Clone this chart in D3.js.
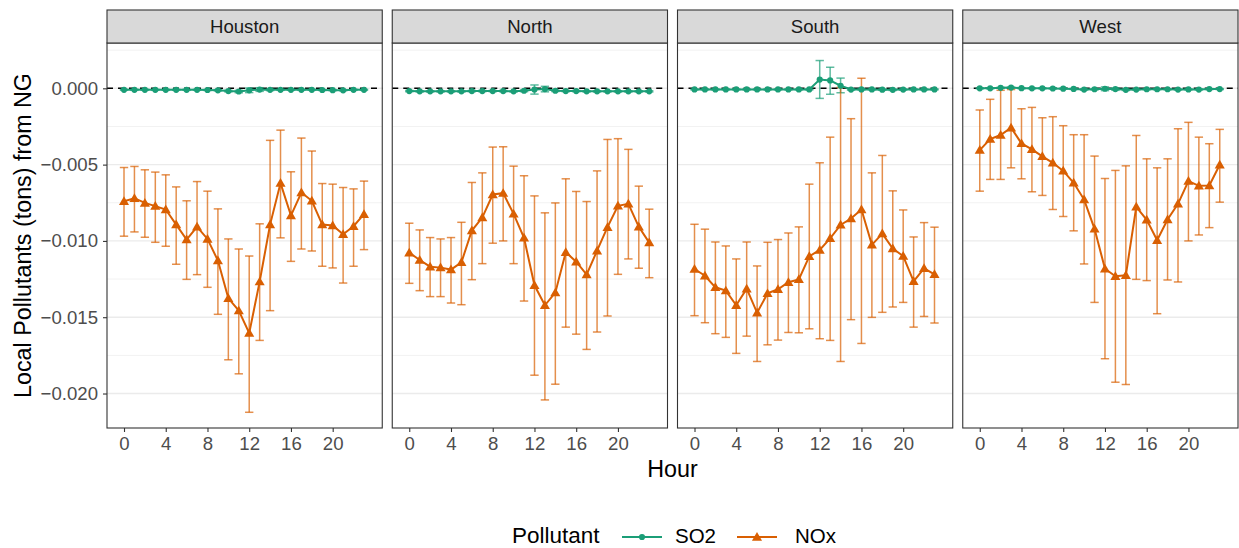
<!DOCTYPE html>
<html>
<head>
<meta charset="utf-8">
<script src="https://cdn.jsdelivr.net/npm/d3@7/dist/d3.min.js"></script>
<style>
  html, body { margin: 0; padding: 0; background: #fff; }
  svg { display: block; font-family: "Liberation Sans", Arial, Helvetica, sans-serif; }
</style>
</head>
<body>
<svg id="chart" width="1239" height="548"></svg>
<script>
// ---------------- DATA ----------------
const hours = [0,1,2,3,4,5,6,7,8,9,10,11,12,13,14,15,16,17,18,19,20,21,22,23];
const regions = ["Houston", "North", "South", "West"];
const pollutants = ["SO2", "NOx"];
const yTicks = [0, -0.005, -0.010, -0.015, -0.020];
const yMinor = [0.0025, -0.0025, -0.0075, -0.0125, -0.0175];
const xTicks = [0, 4, 8, 12, 16, 20];

// NOx (mean, upper, lower)
const houstonNOx   = [-0.00740,-0.00720,-0.00751,-0.00772,-0.00794,-0.00893,-0.00991,-0.00908,-0.00987,-0.01129,-0.01376,-0.01457,-0.01604,-0.01267,-0.00893,-0.00621,-0.00834,-0.00683,-0.00737,-0.00893,-0.00899,-0.00956,-0.00904,-0.00825];
const houstonNOxHi = [-0.00519,-0.00512,-0.00534,-0.00549,-0.00567,-0.00646,-0.00737,-0.00611,-0.00674,-0.00790,-0.00987,-0.01053,-0.01099,-0.00888,-0.00341,-0.00274,-0.00547,-0.00326,-0.00411,-0.00624,-0.00628,-0.00650,-0.00659,-0.00608];
const houstonNOxLo = [-0.00969,-0.00941,-0.00976,-0.01009,-0.01035,-0.01153,-0.01252,-0.01221,-0.01304,-0.01481,-0.01779,-0.01871,-0.02123,-0.01652,-0.01457,-0.00980,-0.01134,-0.01053,-0.01066,-0.01166,-0.01177,-0.01276,-0.01166,-0.01057];

const northNOx   = [-0.01077,-0.01125,-0.01169,-0.01175,-0.01188,-0.01140,-0.00932,-0.00847,-0.00696,-0.00687,-0.00823,-0.00980,-0.01291,-0.01422,-0.01339,-0.01074,-0.01136,-0.01221,-0.01064,-0.00910,-0.00770,-0.00757,-0.00908,-0.01011];
const northNOxHi = [-0.00884,-0.00928,-0.00978,-0.00987,-0.00978,-0.00878,-0.00617,-0.00554,-0.00385,-0.00383,-0.00510,-0.00573,-0.00705,-0.00816,-0.00751,-0.00593,-0.00676,-0.00742,-0.00541,-0.00335,-0.00330,-0.00400,-0.00641,-0.00792];
const northNOxLo = [-0.01278,-0.01326,-0.01365,-0.01365,-0.01407,-0.01418,-0.01254,-0.01149,-0.01015,-0.01000,-0.01149,-0.01394,-0.01880,-0.02042,-0.01939,-0.01565,-0.01611,-0.01711,-0.01597,-0.01492,-0.01219,-0.01118,-0.01179,-0.01241];

const southNOx   = [-0.01184,-0.01228,-0.01304,-0.01326,-0.01422,-0.01313,-0.01471,-0.01344,-0.01317,-0.01271,-0.01252,-0.01101,-0.01059,-0.00983,-0.00895,-0.00853,-0.00794,-0.01026,-0.00952,-0.01050,-0.01099,-0.01265,-0.01180,-0.01219];
const southNOxHi = [-0.00891,-0.00923,-0.01007,-0.01033,-0.01118,-0.01007,-0.01164,-0.01009,-0.00991,-0.00948,-0.00908,-0.00628,-0.00488,-0.00320,0.00005,-0.00199,0.00066,-0.00554,-0.00440,-0.00672,-0.00797,-0.00974,-0.00880,-0.00910];
const southNOxLo = [-0.01490,-0.01536,-0.01608,-0.01632,-0.01737,-0.01624,-0.01790,-0.01681,-0.01650,-0.01600,-0.01602,-0.01576,-0.01641,-0.01652,-0.01790,-0.01516,-0.01672,-0.01501,-0.01468,-0.01433,-0.01403,-0.01565,-0.01495,-0.01538];

const westNOx   = [-0.00405,-0.00333,-0.00306,-0.00258,-0.00361,-0.00400,-0.00446,-0.00488,-0.00541,-0.00619,-0.00729,-0.00921,-0.01182,-0.01232,-0.01225,-0.00777,-0.00862,-0.00996,-0.00860,-0.00757,-0.00608,-0.00639,-0.00637,-0.00501];
const westNOxHi = [-0.00142,-0.00072,-0.00013,-0.00008,-0.00134,-0.00125,-0.00193,-0.00186,-0.00245,-0.00304,-0.00304,-0.00444,-0.00591,-0.00538,-0.00508,-0.00309,-0.00462,-0.00521,-0.00462,-0.00265,-0.00223,-0.00320,-0.00363,-0.00269];
const westNOxLo = [-0.00674,-0.00597,-0.00597,-0.00521,-0.00593,-0.00678,-0.00702,-0.00794,-0.00840,-0.00934,-0.01151,-0.01403,-0.01772,-0.01926,-0.01941,-0.01252,-0.01260,-0.01477,-0.01256,-0.01269,-0.01000,-0.00961,-0.00913,-0.00746];

// SO2 (mean, upper, lower)
const houstonSO2   = [-0.00010,-0.00010,-0.00010,-0.00010,-0.00010,-0.00010,-0.00010,-0.00010,-0.00011,-0.00013,-0.00018,-0.00021,-0.00013,-0.00008,-0.00010,-0.00010,-0.00010,-0.00010,-0.00010,-0.00011,-0.00012,-0.00013,-0.00010,-0.00010];
const houstonSO2Hi = [-0.00007,-0.00007,-0.00007,-0.00007,-0.00007,-0.00007,-0.00007,-0.00007,-0.00008,-0.00009,-0.00013,-0.00013,0.00002,0.00004,-0.00005,-0.00007,-0.00007,-0.00007,-0.00007,-0.00008,-0.00009,-0.00010,-0.00007,-0.00007];
const houstonSO2Lo = [-0.00013,-0.00013,-0.00013,-0.00013,-0.00013,-0.00013,-0.00013,-0.00013,-0.00014,-0.00017,-0.00023,-0.00029,-0.00028,-0.00020,-0.00015,-0.00013,-0.00013,-0.00013,-0.00013,-0.00014,-0.00015,-0.00016,-0.00013,-0.00013];

const northSO2   = [-0.00018,-0.00020,-0.00020,-0.00020,-0.00020,-0.00020,-0.00018,-0.00018,-0.00018,-0.00018,-0.00020,-0.00016,-0.00008,-0.00005,-0.00016,-0.00018,-0.00018,-0.00020,-0.00020,-0.00020,-0.00020,-0.00020,-0.00020,-0.00020];
const northSO2Hi = [-0.00014,-0.00016,-0.00016,-0.00016,-0.00016,-0.00016,-0.00014,-0.00014,-0.00014,-0.00014,-0.00016,-0.00010,0.00022,0.00013,-0.00011,-0.00014,-0.00014,-0.00016,-0.00016,-0.00016,-0.00016,-0.00016,-0.00016,-0.00016];
const northSO2Lo = [-0.00022,-0.00024,-0.00024,-0.00024,-0.00024,-0.00024,-0.00022,-0.00022,-0.00022,-0.00022,-0.00024,-0.00022,-0.00038,-0.00023,-0.00021,-0.00022,-0.00022,-0.00024,-0.00024,-0.00024,-0.00024,-0.00024,-0.00024,-0.00024];

const southSO2   = [-0.00007,-0.00007,-0.00007,-0.00007,-0.00007,-0.00007,-0.00007,-0.00007,-0.00007,-0.00007,-0.00007,-0.00007,0.00057,0.00052,0.00017,-0.00008,-0.00007,-0.00007,-0.00009,-0.00010,-0.00008,-0.00007,-0.00007,-0.00007];
const southSO2Hi = [-0.00004,-0.00004,-0.00004,-0.00004,-0.00004,-0.00004,-0.00004,-0.00004,-0.00004,-0.00004,-0.00004,-0.00004,0.00182,0.00138,0.00067,-0.00004,-0.00004,-0.00004,-0.00005,-0.00006,-0.00004,-0.00004,-0.00004,-0.00004];
const southSO2Lo = [-0.00010,-0.00010,-0.00010,-0.00010,-0.00010,-0.00010,-0.00010,-0.00010,-0.00010,-0.00010,-0.00010,-0.00010,-0.00066,-0.00039,-0.00029,-0.00012,-0.00010,-0.00010,-0.00013,-0.00014,-0.00012,-0.00010,-0.00010,-0.00010];

const westSO2   = [0.00000,0.00000,0.00003,0.00005,0.00001,0.00000,0.00000,-0.00001,-0.00002,-0.00004,-0.00008,-0.00006,-0.00003,-0.00005,-0.00010,-0.00008,-0.00006,-0.00006,-0.00006,-0.00008,-0.00007,-0.00008,-0.00005,-0.00005];
const westSO2Hi = [0.00003,0.00003,0.00006,0.00008,0.00004,0.00003,0.00003,0.00002,0.00001,-0.00001,-0.00004,-0.00002,0.00009,0.00003,-0.00006,-0.00005,-0.00003,-0.00003,-0.00003,-0.00005,-0.00004,-0.00005,-0.00002,-0.00002];
const westSO2Lo = [-0.00003,-0.00003,0.00000,0.00002,-0.00002,-0.00003,-0.00003,-0.00004,-0.00005,-0.00007,-0.00012,-0.00010,-0.00015,-0.00013,-0.00014,-0.00011,-0.00009,-0.00009,-0.00009,-0.00011,-0.00010,-0.00011,-0.00008,-0.00008];

const seriesByRegion = {
  Houston: { SO2: [houstonSO2, houstonSO2Lo, houstonSO2Hi], NOx: [houstonNOx, houstonNOxLo, houstonNOxHi] },
  North:   { SO2: [northSO2, northSO2Lo, northSO2Hi],       NOx: [northNOx, northNOxLo, northNOxHi] },
  South:   { SO2: [southSO2, southSO2Lo, southSO2Hi],       NOx: [southNOx, southNOxLo, southNOxHi] },
  West:    { SO2: [westSO2, westSO2Lo, westSO2Hi],          NOx: [westNOx, westNOxLo, westNOxHi] }
};

// ---------------- LAYOUT ----------------
const colors = { SO2: "#1B9E77", NOx: "#D95F02" };
const shapes = { SO2: d3.symbolCircle, NOx: d3.symbolTriangle };
const shapeSize = { SO2: 30, NOx: 44 };

const plotLeft = 107, plotRight = 1238, gap = 10;
const panelW = (plotRight - plotLeft - gap * 3) / 4;
const stripTop = 10, panelTop = 43, panelBottom = 428;
const capW = 0.8;

const svg = d3.select("#chart");
svg.append("rect").attr("width", 1239).attr("height", 548).attr("fill", "#fff");

const y = d3.scaleLinear().domain([0.00297, -0.02226]).range([panelTop, panelBottom]);
const tickFmt = d3.format(".3f");
const minusFmt = v => (v < 0 ? "\u2212" + tickFmt(-v) : tickFmt(v));

regions.forEach((reg, i) => {
  const x0 = plotLeft + i * (panelW + gap);
  const x = d3.scaleLinear().domain([-1.63, 24.75]).range([x0, x0 + panelW]);
  const g = svg.append("g");

  g.append("rect").attr("x", x0).attr("y", panelTop).attr("width", panelW)
    .attr("height", panelBottom - panelTop).attr("fill", "#fff");

  g.selectAll(".minor").data(yMinor).join("line")
    .attr("x1", x0).attr("x2", x0 + panelW)
    .attr("y1", d => y(d)).attr("y2", d => y(d))
    .attr("stroke", "#F2F2F2").attr("stroke-width", 1);
  g.selectAll(".major").data(yTicks).join("line")
    .attr("x1", x0).attr("x2", x0 + panelW)
    .attr("y1", d => y(d)).attr("y2", d => y(d))
    .attr("stroke", "#EBEBEB").attr("stroke-width", 1.4);

  g.append("line").attr("x1", x0).attr("x2", x0 + panelW)
    .attr("y1", y(0)).attr("y2", y(0))
    .attr("stroke", "#000").attr("stroke-width", 1.6).attr("stroke-dasharray", "6,5");

  const marks = g.append("g");

  pollutants.forEach(p => {
    const [mean, lo, hi] = seriesByRegion[reg][p];
    const data = hours.map((h, k) => ({ h, m: mean[k], lo: lo[k], hi: hi[k] }));
    const eb = marks.append("g").attr("stroke", colors[p]).attr("stroke-opacity", 0.7)
      .attr("stroke-width", 1.5).attr("fill", "none");
    eb.selectAll(".v").data(data).join("line")
      .attr("x1", d => x(d.h)).attr("x2", d => x(d.h))
      .attr("y1", d => y(d.hi)).attr("y2", d => y(d.lo));
    eb.selectAll(".t").data(data).join("line")
      .attr("x1", d => x(d.h - capW / 2)).attr("x2", d => x(d.h + capW / 2))
      .attr("y1", d => y(d.hi)).attr("y2", d => y(d.hi));
    eb.selectAll(".b").data(data).join("line")
      .attr("x1", d => x(d.h - capW / 2)).attr("x2", d => x(d.h + capW / 2))
      .attr("y1", d => y(d.lo)).attr("y2", d => y(d.lo));
  });
  pollutants.forEach(p => {
    const mean = seriesByRegion[reg][p][0];
    const data = hours.map((h, k) => ({ h, m: mean[k] }));
    marks.append("path").datum(data)
      .attr("d", d3.line().x(d => x(d.h)).y(d => y(d.m)))
      .attr("fill", "none").attr("stroke", colors[p]).attr("stroke-width", 2);
    marks.selectAll(".pt" + p).data(data).join("path")
      .attr("transform", d => `translate(${x(d.h)},${y(d.m) + (p === "NOx" ? 0.8 : 0)})`)
      .attr("d", d3.symbol().type(shapes[p]).size(shapeSize[p]))
      .attr("fill", colors[p]);
  });

  g.append("rect").attr("x", x0).attr("y", panelTop).attr("width", panelW)
    .attr("height", panelBottom - panelTop).attr("fill", "none")
    .attr("stroke", "#333333").attr("stroke-width", 1.1);

  g.append("rect").attr("x", x0).attr("y", stripTop).attr("width", panelW)
    .attr("height", panelTop - stripTop).attr("fill", "#D9D9D9")
    .attr("stroke", "#333333").attr("stroke-width", 1.1);
  g.append("text").attr("x", x0 + panelW / 2).attr("y", 33)
    .attr("text-anchor", "middle").attr("font-size", 18.6).attr("fill", "#1A1A1A")
    .text(reg);

  const xAxis = d3.axisBottom(x).tickValues(xTicks).tickSize(4).tickPadding(5);
  const ax = g.append("g").attr("transform", `translate(0,${panelBottom})`).call(xAxis);
  ax.select(".domain").remove();
  ax.selectAll(".tick line").attr("stroke", "#333333").attr("stroke-width", 1.1);
  ax.selectAll(".tick text").attr("font-size", 18.6).attr("fill", "#4D4D4D")
    .attr("font-family", "'Liberation Sans', Arial, sans-serif");

  if (i === 0) {
    const yAxis = d3.axisLeft(y).tickValues(yTicks).tickFormat(minusFmt).tickSize(4).tickPadding(5);
    const ay = g.append("g").attr("transform", `translate(${x0},0)`).call(yAxis);
    ay.select(".domain").remove();
    ay.selectAll(".tick line").attr("stroke", "#333333").attr("stroke-width", 1.1);
    ay.selectAll(".tick text").attr("font-size", 18.6).attr("fill", "#4D4D4D")
      .attr("font-family", "'Liberation Sans', Arial, sans-serif");
  }
});

svg.append("text").attr("x", (plotLeft + plotRight) / 2).attr("y", 477)
  .attr("text-anchor", "middle").attr("font-size", 23.3).attr("fill", "#000").text("Hour");
svg.append("text")
  .attr("transform", `translate(31,${(panelTop + panelBottom) / 2}) rotate(-90)`)
  .attr("text-anchor", "middle").attr("font-size", 23.3).attr("fill", "#000")
  .text("Local Pollutants (tons) from NG");

// legend
const lg = svg.append("g");
lg.append("text").attr("x", 512).attr("y", 543).attr("font-size", 22.5).text("Pollutant");
const keyPos = [{ p: "SO2", x1: 622, tx: 675 }, { p: "NOx", x1: 737, tx: 795 }];
keyPos.forEach(k => {
  lg.append("line").attr("x1", k.x1).attr("x2", k.x1 + 40).attr("y1", 537).attr("y2", 537)
    .attr("stroke", colors[k.p]).attr("stroke-width", 2);
  lg.append("path").attr("transform", `translate(${k.x1 + 20},${537 + (k.p === "NOx" ? 0.8 : 0)})`)
    .attr("d", d3.symbol().type(shapes[k.p]).size(shapeSize[k.p])).attr("fill", colors[k.p]);
  lg.append("text").attr("x", k.tx).attr("y", 543).attr("font-size", 20.5).text(k.p);
});
</script>
</body>
</html>
